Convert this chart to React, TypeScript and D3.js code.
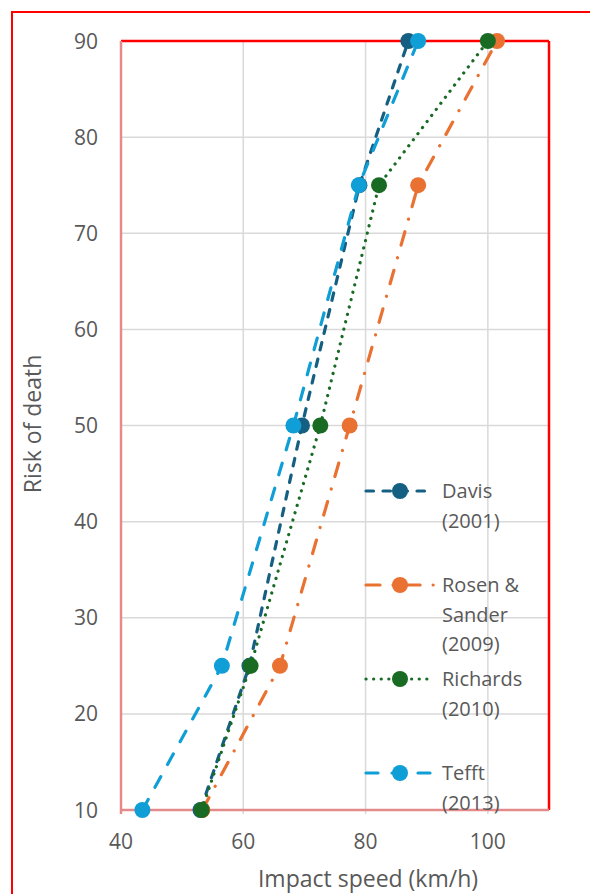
import React from "react";
import * as d3 from "d3";

const riskLevels = [10, 25, 50, 75, 90];
const davis = [53, 61, 69.6, 79, 87];
const rosenSander = [53.3, 66, 77.4, 88.6, 101.5];
const richards = [53.2, 61.2, 72.6, 82.2, 100];
const tefft = [43.5, 56.5, 68.2, 78.9, 88.6];

const seriesNames = [["Davis", "(2001)"], ["Rosen &", "Sander", "(2009)"], ["Richards", "(2010)"], ["Tefft", "(2013)"]];
const xTicks = [40, 60, 80, 100];
const yTicks = [10, 20, 30, 40, 50, 60, 70, 80, 90];

const W = 590, H = 894;
const FONT = "'Open Sans', 'Noto Sans', sans-serif";
const TXT = "#595959";

export default function App() {
  const x = d3.scaleLinear().domain([40, 110]).range([121, 549]);
  const y = d3.scaleLinear().domain([10, 90]).range([810, 41]);

  const series = [
    { vals: davis, color: "#156082", dash: "7.5 9.5" },
    { vals: rosenSander, color: "#E97132", dash: "14 13 0.1 13" },
    { vals: richards, color: "#196B24", dash: "0.1 7.5" },
    { vals: tefft, color: "#0F9ED5", dash: "12 14" },
  ];

  const line = d3.line<[number, number]>().x((d) => x(d[0])).y((d) => y(d[1]));

  const legendY = [491, 585, 679, 773];
  const lineH = 29.5;

  return (
    <svg width={W} height={H} style={{ position: "absolute", left: 0, top: 0, background: "#fff" }}>
      <rect x={12} y={12} width={620} height={920} fill="#fff" stroke="#ff0000" strokeWidth={2} />
      {yTicks.slice(1, -1).map((t) => (
        <line key={"gy" + t} x1={x(40)} x2={x(110)} y1={y(t)} y2={y(t)} stroke="#d9d9d9" strokeWidth={1.5} />
      ))}
      {xTicks.slice(1).map((t) => (
        <line key={"gx" + t} x1={x(t)} x2={x(t)} y1={y(90)} y2={y(10) + 4} stroke="#d9d9d9" strokeWidth={1.5} />
      ))}
      <line x1={x(40)} x2={x(110)} y1={y(90)} y2={y(90)} stroke="#ff0000" strokeWidth={2.5} />
      <line x1={x(110)} x2={x(110)} y1={y(90)} y2={y(10)} stroke="#ff0000" strokeWidth={2.5} />
      <line x1={x(40)} x2={x(40)} y1={y(90)} y2={y(10) + 4} stroke="#e58a8a" strokeWidth={2.5} />
      <line x1={x(40)} x2={x(110)} y1={y(10)} y2={y(10)} stroke="#e58a8a" strokeWidth={2.5} />
      {yTicks.map((t) => (
        <text key={"ty" + t} x={98} y={y(t)} dy="0.36em" textAnchor="end" fontFamily={FONT} fontSize={21} fill={TXT}>
          {t}
        </text>
      ))}
      {xTicks.map((t) => (
        <text key={"tx" + t} x={x(t)} y={841} dy="0.36em" textAnchor="middle" fontFamily={FONT} fontSize={21} fill={TXT}>
          {t}
        </text>
      ))}
      <text x={368} y={887} textAnchor="middle" fontFamily={FONT} fontSize={23} fill={TXT}>
        Impact speed (km/h)
      </text>
      <text transform={`translate(41,424) rotate(-90)`} textAnchor="middle" fontFamily={FONT} fontSize={23} fill={TXT}>
        Risk of death
      </text>
      {series.map((s, i) => {
        const pts: [number, number][] = s.vals.map((v, j) => [v, riskLevels[j]]);
        return (
          <g key={"s" + i}>
            <path d={line(pts) || ""} fill="none" stroke={s.color} strokeWidth={3.2} strokeDasharray={s.dash} strokeLinecap="round" />
            {pts.map((p, j) => (
              <circle key={j} cx={x(p[0])} cy={y(p[1])} r={8} fill={s.color} />
            ))}
          </g>
        );
      })}
      {series.map((s, i) => (
        <g key={"l" + i}>
          <line x1={366} x2={434} y1={legendY[i]} y2={legendY[i]} stroke={s.color} strokeWidth={3.2} strokeDasharray={s.dash} strokeLinecap="round" />
          <circle cx={400} cy={legendY[i]} r={8} fill={s.color} />
          {seriesNames[i].map((t, k) => (
            <text key={k} x={442} y={legendY[i] + k * lineH} dy="0.36em" fontFamily={FONT} fontSize={20} fill={TXT}>
              {t}
            </text>
          ))}
        </g>
      ))}
    </svg>
  );
}
